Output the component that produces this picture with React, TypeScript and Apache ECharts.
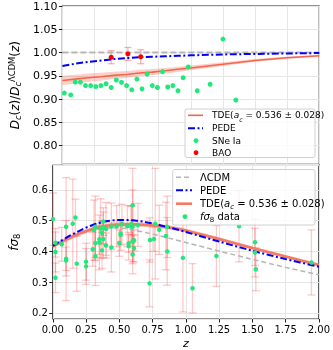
import React, { useEffect, useRef } from "react";
import * as echarts from "echarts";

const FONT = "DejaVu Sans";

// ---- top panel data ----
const curveZ = [0, 0.1, 0.2, 0.3, 0.4, 0.5, 0.6, 0.7, 0.8, 0.9, 1.0, 1.25, 1.5, 1.75, 2.0];
const topLCDM = [1, 1, 1, 1, 1, 1, 1, 1, 1, 1, 1, 1, 1, 1, 1];
const topPEDE = [0.971, 0.976, 0.980, 0.983, 0.986, 0.988, 0.990, 0.991, 0.992, 0.993, 0.994, 0.996, 0.997, 0.998, 0.999];
const topTDE = [0.940, 0.943, 0.946, 0.948, 0.951, 0.953, 0.956, 0.958, 0.961, 0.964, 0.967, 0.975, 0.983, 0.989, 0.993];
const topTDELow = [0.930, 0.9335, 0.937, 0.9395, 0.943, 0.9455, 0.949, 0.9515, 0.955, 0.9585, 0.962, 0.971, 0.980, 0.9865, 0.991];
const topTDEHigh = [0.950, 0.9525, 0.955, 0.9565, 0.959, 0.9605, 0.963, 0.9645, 0.967, 0.9695, 0.972, 0.979, 0.986, 0.9915, 0.995];

const snZ = [0.015, 0.065, 0.10, 0.14, 0.18, 0.22, 0.26, 0.30, 0.34, 0.38, 0.42, 0.46, 0.50, 0.54, 0.58, 0.62, 0.66, 0.70, 0.74, 0.78, 0.82, 0.86, 0.90, 0.94, 0.98, 1.05, 1.15, 1.25, 1.35];
const snRatio = [0.913, 0.909, 0.9365, 0.9365, 0.929, 0.929, 0.927, 0.929, 0.933, 0.925, 0.941, 0.936, 0.929, 0.920, 0.943, 0.922, 0.954, 0.929, 0.925, 0.959, 0.926, 0.929, 0.918, 0.946, 0.969, 0.918, 0.932, 1.029, 0.898];

const baoZ = [0.38, 0.51, 0.61];
const baoRatio = [0.990, 0.997, 0.991];
const baoErr = [0.014, 0.014, 0.015];

// ---- bottom panel data ----
const botLCDM = [0.416, 0.437, 0.455, 0.468, 0.476, 0.476, 0.470, 0.461, 0.451, 0.440, 0.429, 0.401, 0.374, 0.348, 0.324];
const botPEDE = [0.418, 0.444, 0.467, 0.486, 0.498, 0.502, 0.501, 0.495, 0.486, 0.475, 0.463, 0.432, 0.402, 0.375, 0.350];
const botTDE = [0.416, 0.438, 0.458, 0.473, 0.483, 0.487, 0.488, 0.486, 0.482, 0.476, 0.468, 0.440, 0.411, 0.383, 0.356];
const botTDELow = [0.409, 0.431, 0.451, 0.466, 0.476, 0.480, 0.481, 0.479, 0.475, 0.469, 0.462, 0.434, 0.406, 0.378, 0.351];
const botTDEHigh = [0.423, 0.445, 0.465, 0.480, 0.490, 0.494, 0.495, 0.493, 0.489, 0.483, 0.474, 0.446, 0.416, 0.388, 0.361];

const fsZ = [0.35, 0.77, 0.17, 0.02, 0.02, 0.25, 0.37, 0.25, 0.37, 0.44, 0.60, 0.73, 0.067, 0.30, 0.40, 0.50, 0.60, 0.80, 0.35, 0.18, 0.38, 0.32, 0.32, 0.57, 0.15, 0.10, 1.40, 0.59, 0.38, 0.51, 0.61, 0.38, 0.51, 0.61, 0.76, 1.05, 0.32, 0.57, 0.727, 0.02, 0.60, 0.86, 0.60, 0.86, 0.10, 0.001, 0.85, 0.31, 0.36, 0.40, 0.44, 0.48, 0.52, 0.56, 0.59, 0.64, 0.10, 1.52, 1.52, 0.978, 1.23, 1.526, 1.944];
const fsVal = [0.440, 0.490, 0.510, 0.314, 0.398, 0.3512, 0.4602, 0.3665, 0.4031, 0.413, 0.390, 0.437, 0.423, 0.407, 0.419, 0.427, 0.433, 0.470, 0.429, 0.360, 0.440, 0.384, 0.48, 0.417, 0.490, 0.370, 0.482, 0.488, 0.497, 0.458, 0.436, 0.477, 0.453, 0.410, 0.440, 0.280, 0.427, 0.426, 0.296, 0.428, 0.48, 0.48, 0.550, 0.400, 0.48, 0.505, 0.45, 0.469, 0.474, 0.473, 0.481, 0.482, 0.488, 0.482, 0.481, 0.486, 0.376, 0.430, 0.396, 0.379, 0.385, 0.342, 0.364];
const fsErr = [0.050, 0.180, 0.060, 0.048, 0.065, 0.0583, 0.0378, 0.0601, 0.0586, 0.080, 0.063, 0.072, 0.055, 0.055, 0.041, 0.043, 0.067, 0.080, 0.089, 0.090, 0.060, 0.095, 0.10, 0.045, 0.145, 0.130, 0.116, 0.060, 0.045, 0.038, 0.034, 0.051, 0.050, 0.044, 0.040, 0.080, 0.056, 0.029, 0.0765, 0.0465, 0.12, 0.10, 0.120, 0.110, 0.16, 0.085, 0.11, 0.098, 0.097, 0.086, 0.076, 0.067, 0.065, 0.067, 0.066, 0.070, 0.038, 0.076, 0.079, 0.176, 0.099, 0.070, 0.106];

const C_TDE = "#f4654c";
const C_PEDE = "#0000ff";
const C_LCDM = "#b5b5b5";
const C_GREEN = "#22e87a";
const DASHDOT = [7, 2.5, 2, 2.5];

const zip = (a: number[], b: number[]) => a.map((v, i) => [v, b[i]]);

function bandSeries(xi: number, zs: number[], lo: number[], hi: number[], fill: string) {
  return {
    type: "custom",
    xAxisIndex: xi,
    yAxisIndex: xi,
    data: [[zs[0], lo[0]]],
    encode: { x: 0, y: 1 },
    silent: true,
    z: 3,
    renderItem: (params: any, api: any) => {
      if (params.dataIndex !== 0) return null;
      const pts: number[][] = [];
      zs.forEach((z, i) => pts.push(api.coord([z, hi[i]])));
      for (let i = zs.length - 1; i >= 0; i--) pts.push(api.coord([zs[i], lo[i]]));
      return { type: "polygon", shape: { points: pts }, style: { fill } };
    },
  };
}

function errSeries(xi: number, zs: number[], vals: number[], errs: number[], stroke: string, cap: number, lw: number) {
  return {
    type: "custom",
    xAxisIndex: xi,
    yAxisIndex: xi,
    data: zs.map((z, i) => [z, vals[i], errs[i]]),
    encode: { x: 0, y: 1 },
    silent: true,
    z: 2,
    renderItem: (params: any, api: any) => {
      const x = api.value(0);
      const y = api.value(1);
      const e = api.value(2);
      const t = api.coord([x, y + e]);
      const b = api.coord([x, y - e]);
      const st = { stroke, lineWidth: lw };
      return {
        type: "group",
        children: [
          { type: "line", shape: { x1: t[0], y1: t[1], x2: b[0], y2: b[1] }, style: st },
          { type: "line", shape: { x1: t[0] - cap, y1: t[1], x2: t[0] + cap, y2: t[1] }, style: st },
          { type: "line", shape: { x1: b[0] - cap, y1: b[1], x2: b[0] + cap, y2: b[1] }, style: st },
        ],
      };
    },
  };
}

const richMath = (size: number) => ({
  n: { fontFamily: FONT, fontSize: size, lineHeight: 14, color: "#000" },
  i: { fontFamily: FONT, fontSize: size, lineHeight: 14, fontStyle: "italic", color: "#000" },
  s: { fontFamily: FONT, fontSize: size * 0.7, lineHeight: 8, fontStyle: "italic", verticalAlign: "bottom", color: "#000" },
  su: { fontFamily: FONT, fontSize: size * 0.7, lineHeight: 8, verticalAlign: "bottom", color: "#000" },
  p: { fontFamily: FONT, fontSize: size * 0.7, lineHeight: 6, verticalAlign: "top", color: "#000" },
});

function legendText(x: number, y: number, text: string, size: number) {
  return {
    type: "text",
    x,
    y,
    z: 101,
    style: {
      text,
      fontFamily: FONT,
      fontSize: size,
      fill: "#000",
      verticalAlign: "middle",
      textVerticalAlign: "middle",
      rich: richMath(size),
    },
  };
}

function lineItem(x1: number, x2: number, y: number, stroke: string, lw: number, dash?: number[]) {
  return {
    type: "line",
    z: 101,
    shape: { x1, y1: y, x2, y2: y },
    style: { stroke, lineWidth: lw, lineDash: dash || null },
  };
}

function dotItem(cx: number, cy: number, fill: string) {
  return { type: "circle", z: 101, shape: { cx, cy, r: 2.4 }, style: { fill } };
}

export default function App() {
  const ref = useRef<HTMLDivElement>(null);
  useEffect(() => {
    if (!ref.current) return;
    const chart = echarts.init(ref.current, null, { renderer: "svg" });
    const gridCommon = { show: true, borderColor: "#222", borderWidth: 1.2, backgroundColor: "transparent" };
    const splitLine = { show: true, lineStyle: { color: "#e6e6e6", width: 1 } };
    const tick = { show: true, inside: false, length: 3.5, lineStyle: { color: "#222", width: 1 } };

    const option: any = {
      animation: false,
      textStyle: { fontFamily: FONT },
      grid: [
        { ...gridCommon, left: 40.7, top: 6, width: 278.6, height: 158.3 },
        { ...gridCommon, left: 40.7, top: 165.3, width: 278.6, height: 158 },
      ],
      xAxis: [
        {
          type: "value", gridIndex: 0, min: 0, max: 2, interval: 0.25,
          axisLine: { show: false }, axisTick: { show: false }, axisLabel: { show: false }, splitLine,
        },
        {
          type: "value", gridIndex: 1, min: 0, max: 2, interval: 0.25,
          axisLine: { show: false }, axisTick: tick, splitLine,
          axisLabel: { color: "#000", fontFamily: FONT, fontSize: 10, margin: 5, formatter: (v: number) => v.toFixed(2) },
          name: "{i|z}", nameLocation: "middle", nameGap: 19,
          nameTextStyle: { rich: { i: { fontFamily: FONT, fontSize: 11, fontStyle: "italic", color: "#000" } } },
        },
      ],
      yAxis: [
        {
          type: "value", gridIndex: 0, min: 0.76, max: 1.1, splitNumber: 7, minInterval: 0.05, maxInterval: 0.05,
          axisLine: { show: false }, axisTick: tick, splitLine,
          axisLabel: { color: "#000", fontFamily: FONT, fontSize: 11, margin: 5, showMinLabel: false, formatter: (v: number) => v.toFixed(2) },
          name: "{i|D}{s|c}{n|(}{i|z}{n|)/}{i|D}{s|c}{p|ΛCDM}{n|(}{i|z}{n|)}",
          nameLocation: "middle", nameGap: 33, nameRotate: 90,
          nameTextStyle: { rich: richMath(12) },
        },
        {
          type: "value", gridIndex: 1, min: 0.18, max: 0.68, splitNumber: 5, minInterval: 0.1, maxInterval: 0.1,
          axisLine: { show: false }, axisTick: tick, splitLine,
          axisLabel: { color: "#000", fontFamily: FONT, fontSize: 10, margin: 5, showMinLabel: false, showMaxLabel: false, formatter: (v: number) => v.toFixed(1) },
          name: "{i|fσ}{su|8}",
          nameLocation: "middle", nameGap: 27, nameRotate: 90,
          nameTextStyle: { rich: richMath(12) },
        },
      ],
      series: [
        // top panel
        bandSeries(0, curveZ, topTDELow, topTDEHigh, "rgba(244,101,76,0.3)"),
        {
          type: "line", xAxisIndex: 0, yAxisIndex: 0, data: zip(curveZ, topLCDM), symbol: "none", z: 4,
          lineStyle: { color: C_LCDM, width: 2, type: [6, 3] },
        },
        {
          type: "line", xAxisIndex: 0, yAxisIndex: 0, data: zip(curveZ, topPEDE), symbol: "none", z: 5,
          lineStyle: { color: C_PEDE, width: 2, type: DASHDOT },
        },
        {
          type: "line", xAxisIndex: 0, yAxisIndex: 0, data: zip(curveZ, topTDE), symbol: "none", z: 5,
          lineStyle: { color: C_TDE, width: 1.6 },
        },
        {
          type: "scatter", xAxisIndex: 0, yAxisIndex: 0, data: zip(snZ, snRatio), symbolSize: 5, z: 6,
          itemStyle: { color: C_GREEN, opacity: 1 },
        },
        errSeries(0, baoZ, baoRatio, baoErr, "rgba(240,110,110,0.55)", 3.5, 1.2),
        {
          type: "scatter", xAxisIndex: 0, yAxisIndex: 0, data: zip(baoZ, baoRatio), symbolSize: 5, z: 7,
          itemStyle: { color: "#ff0000", opacity: 1 },
        },
        // bottom panel
        errSeries(1, fsZ, fsVal, fsErr, "rgba(255,30,30,0.24)", 4, 1.3),
        bandSeries(1, curveZ, botTDELow, botTDEHigh, "rgba(244,101,76,0.35)"),
        {
          type: "line", xAxisIndex: 1, yAxisIndex: 1, data: zip(curveZ, botLCDM), symbol: "none", z: 4, smooth: 0.3,
          lineStyle: { color: C_LCDM, width: 1.5, type: [5, 3] },
        },
        {
          type: "line", xAxisIndex: 1, yAxisIndex: 1, data: zip(curveZ, botTDE), symbol: "none", z: 4, smooth: 0.3,
          lineStyle: { color: "#f57a62", width: 2.6 },
        },
        {
          type: "line", xAxisIndex: 1, yAxisIndex: 1, data: zip(curveZ, botPEDE), symbol: "none", z: 5, smooth: 0.3,
          lineStyle: { color: C_PEDE, width: 2, type: DASHDOT },
        },
        {
          type: "scatter", xAxisIndex: 1, yAxisIndex: 1, data: zip(fsZ, fsVal), symbolSize: 4.5, z: 6,
          itemStyle: { color: C_GREEN, opacity: 1 },
        },
      ],
      graphic: [
        // top legend
        {
          type: "rect", z: 100,
          shape: { x: 185, y: 109, width: 130, height: 48.5, r: 2 },
          style: { fill: "rgba(255,255,255,0.8)", stroke: "#d0d0d0", lineWidth: 1 },
        },
        lineItem(188, 203, 115.3, C_TDE, 1.6),
        legendText(212, 115.3, "{n|TDE(}{i|a}{s|c}{n| = 0.536 ± 0.028)}", 9),
        lineItem(188, 203, 128.3, C_PEDE, 2, DASHDOT),
        legendText(212, 128.3, "PEDE", 9),
        dotItem(196, 140.7, C_GREEN),
        legendText(212, 140.7, "SNe Ia", 9),
        dotItem(196, 152.7, "#ff0000"),
        legendText(212, 152.7, "BAO", 9),
        // bottom legend
        {
          type: "rect", z: 100,
          shape: { x: 172.7, y: 169.5, width: 142.3, height: 55.5, r: 2 },
          style: { fill: "rgba(255,255,255,0.8)", stroke: "#d0d0d0", lineWidth: 1 },
        },
        lineItem(176, 192, 177.3, C_LCDM, 1.5, [5, 3]),
        legendText(200, 177.3, "ΛCDM", 10),
        lineItem(176, 192, 190.3, C_PEDE, 2, DASHDOT),
        legendText(200, 190.3, "PEDE", 10),
        lineItem(176, 192, 203.7, "#f57a62", 2.6),
        legendText(200, 203.7, "{n|TDE(}{i|a}{s|c}{n| = 0.536 ± 0.028)}", 10),
        dotItem(185, 216.7, C_GREEN),
        legendText(200, 216.7, "{i|fσ}{su|8}{n| data}", 10),
      ],
    };
    chart.setOption(option);
    return () => chart.dispose();
  }, []);
  return <div ref={ref} style={{ position: "fixed", left: 0, top: 0, width: 333, height: 350 }} />;
}
